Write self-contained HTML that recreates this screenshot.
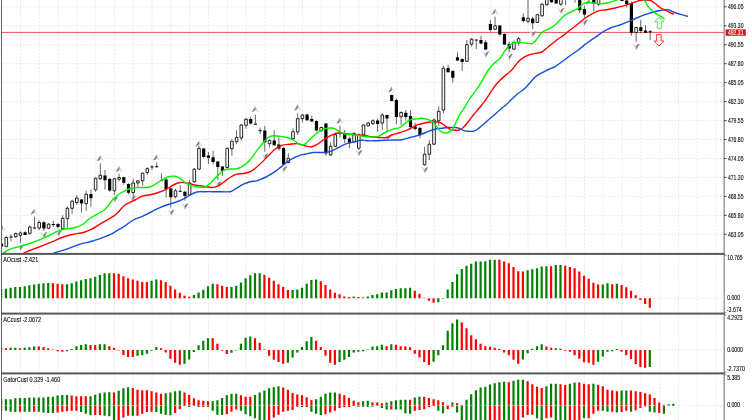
<!DOCTYPE html>
<html><head><meta charset="utf-8"><title>Chart</title>
<style>html,body{margin:0;padding:0;background:#fff;overflow:hidden}</style></head>
<body><svg width="752" height="420" viewBox="0 0 752 420" style="display:block">
<rect width="752" height="420" fill="#fff"/>
<path d="M20.5 0V420M39.3 0V420M58.1 0V420M76.9 0V420M95.7 0V420M114.5 0V420M133.3 0V420M152.1 0V420M170.9 0V420M189.7 0V420M208.5 0V420M227.3 0V420M246.1 0V420M264.9 0V420M283.7 0V420M302.5 0V420M321.3 0V420M340.1 0V420M358.9 0V420M377.7 0V420M396.5 0V420M415.3 0V420M434.1 0V420M452.9 0V420M471.7 0V420M490.5 0V420M509.3 0V420M528.1 0V420M546.9 0V420M565.7 0V420M584.5 0V420M603.3 0V420M622.1 0V420M640.9 0V420M659.7 0V420M678.5 0V420M697.3 0V420M716.1 0V420M2 6.8H724.0M2 25.8H724.0M2 44.7H724.0M2 63.7H724.0M2 82.6H724.0M2 101.6H724.0M2 120.6H724.0M2 139.5H724.0M2 158.5H724.0M2 177.4H724.0M2 196.4H724.0M2 215.4H724.0M2 234.3H724.0M2 298.3H724.0M2 350.0H724.0M2 405.5H724.0" stroke="#dadada" stroke-width="0.6" stroke-dasharray="1.76 1.76" fill="none"/>
<path d="M2 32.4H724.0" stroke="#e02828" stroke-width="0.8"/>
<defs><clipPath id="cm"><rect x="1.8" y="0" width="722" height="253"/></clipPath><clipPath id="c2"><rect x="1.8" y="254" width="722" height="120"/></clipPath>
<clipPath id="c3"><rect x="1.8" y="374" width="722" height="46"/></clipPath></defs>
<g clip-path="url(#cm)">
<path d="M34.4 208.7L37.6 214.5L36.6 214.5L34.5 212.3zM2.7 225.5L5.9 231.3L4.9 231.3L2.8 229.1zM100.5 155.3L103.7 161.1L102.7 161.1L100.6 158.9zM119.4 166.2L122.6 172.0L121.6 172.0L119.5 169.8zM156.9 154.5L160.1 160.3L159.1 160.3L157.0 158.1zM199.2 140.7L202.4 146.5L201.4 146.5L199.3 144.3zM255.5 106.2L258.7 112.0L257.7 112.0L255.6 109.8zM297.9 104.5L301.1 110.3L300.1 110.3L298.0 108.1zM340.2 117.8L343.4 123.6L342.4 123.6L340.3 121.4zM391.9 86.7L395.1 92.5L394.1 92.5L392.0 90.3zM495.4 8.7L498.6 14.5L497.6 14.5L495.5 12.3zM589.4 -1.3L592.6 4.5L591.6 4.5L589.5 2.3zM20.1 250.5L16.9 244.7L17.9 244.7L20.0 246.9zM43.6 238.0L40.4 232.2L41.4 232.2L43.5 234.4zM58.1 236.3L54.9 230.5L55.9 230.5L58.0 232.7zM114.4 202.2L111.2 196.4L112.2 196.4L114.3 198.6zM132.3 201.3L129.1 195.5L130.1 195.5L132.2 197.7zM170.7 215.5L167.5 209.7L168.5 209.7L170.6 211.9zM184.7 209.2L181.5 203.4L182.5 203.4L184.6 205.6zM217.8 187.2L214.6 181.4L215.6 181.4L217.7 183.6zM264.6 159.3L261.4 153.5L262.4 153.5L264.5 155.7zM283.5 172.0L280.3 166.2L281.3 166.2L283.4 168.4zM358.6 156.0L355.4 150.2L356.4 150.2L358.5 152.4zM387.6 140.5L384.4 134.7L385.4 134.7L387.5 136.9zM424.5 173.0L421.3 167.2L422.3 167.2L424.4 169.4zM485.5 57.2L482.3 51.4L483.3 51.4L485.4 53.6zM509.0 59.7L505.8 53.9L506.8 53.9L508.9 56.1zM532.5 37.2L529.3 31.4L530.3 31.4L532.4 33.6zM560.6 13.8L557.4 8.0L558.4 8.0L560.5 10.2zM584.1 25.5L580.9 19.7L581.9 19.7L584.0 21.9zM636.0 49.7L632.8 43.9L633.8 43.9L635.9 46.1z" fill="#cfdcf0"/>
<path d="M34.0 208.9L30.6 214.5M2.3 225.7L-1.1 231.3M100.1 155.5L96.7 161.1M119.0 166.4L115.6 172.0M156.5 154.7L153.1 160.3M198.8 140.9L195.4 146.5M255.1 106.4L251.7 112.0M297.5 104.7L294.1 110.3M339.8 118.0L336.4 123.6M391.5 86.9L388.1 92.5M495.0 8.9L491.6 14.5M589.0 -1.1L585.6 4.5M20.5 250.3L23.9 244.7M44.0 237.8L47.4 232.2M58.5 236.1L61.9 230.5M114.8 202.0L118.2 196.4M132.7 201.1L136.1 195.5M171.1 215.3L174.5 209.7M185.1 209.0L188.5 203.4M218.2 187.0L221.6 181.4M265.0 159.1L268.4 153.5M283.9 171.8L287.3 166.2M359.0 155.8L362.4 150.2M388.0 140.3L391.4 134.7M424.9 172.8L428.3 167.2M485.9 57.0L489.3 51.4M509.4 59.5L512.8 53.9M532.9 37.0L536.3 31.4M561.0 13.6L564.4 8.0M584.5 25.3L587.9 19.7M636.4 49.5L639.8 43.9" stroke="#ecc9a4" stroke-width="0.7" fill="none"/>
<path d="M34.4 208.7L30.8 214.5L32.6 214.1L34.5 212.3zM2.7 225.5L-0.9 231.3L0.9 230.9L2.8 229.1zM100.5 155.3L96.9 161.1L98.7 160.7L100.6 158.9zM119.4 166.2L115.8 172.0L117.6 171.6L119.5 169.8zM156.9 154.5L153.3 160.3L155.1 159.9L157.0 158.1zM199.2 140.7L195.6 146.5L197.4 146.1L199.3 144.3zM255.5 106.2L251.9 112.0L253.7 111.6L255.6 109.8zM297.9 104.5L294.3 110.3L296.1 109.9L298.0 108.1zM340.2 117.8L336.6 123.6L338.4 123.2L340.3 121.4zM391.9 86.7L388.3 92.5L390.1 92.1L392.0 90.3zM495.4 8.7L491.8 14.5L493.6 14.1L495.5 12.3zM589.4 -1.3L585.8 4.5L587.6 4.1L589.5 2.3zM20.1 250.5L23.7 244.7L21.9 245.1L20.0 246.9zM43.6 238.0L47.2 232.2L45.4 232.6L43.5 234.4zM58.1 236.3L61.7 230.5L59.9 230.9L58.0 232.7zM114.4 202.2L118.0 196.4L116.2 196.8L114.3 198.6zM132.3 201.3L135.9 195.5L134.1 195.9L132.2 197.7zM170.7 215.5L174.3 209.7L172.5 210.1L170.6 211.9zM184.7 209.2L188.3 203.4L186.5 203.8L184.6 205.6zM217.8 187.2L221.4 181.4L219.6 181.8L217.7 183.6zM264.6 159.3L268.2 153.5L266.4 153.9L264.5 155.7zM283.5 172.0L287.1 166.2L285.3 166.6L283.4 168.4zM358.6 156.0L362.2 150.2L360.4 150.6L358.5 152.4zM387.6 140.5L391.2 134.7L389.4 135.1L387.5 136.9zM424.5 173.0L428.1 167.2L426.3 167.6L424.4 169.4zM485.5 57.2L489.1 51.4L487.3 51.8L485.4 53.6zM509.0 59.7L512.6 53.9L510.8 54.3L508.9 56.1zM532.5 37.2L536.1 31.4L534.3 31.8L532.4 33.6zM560.6 13.8L564.2 8.0L562.4 8.4L560.5 10.2zM584.1 25.5L587.7 19.7L585.9 20.1L584.0 21.9zM636.0 49.7L639.6 43.9L637.8 44.3L635.9 46.1z" fill="#7d7d86"/>
<path d="M1.60 243.3V246.7M6.30 236.3V247.0M11.00 234.2V241.3M15.70 232.5V238.0M20.40 231.3V243.0M25.10 231.3V235.0M29.80 225.5V234.7M34.50 216.7V228.7M39.20 220.3V230.0M43.90 220.8V230.8M48.60 223.0V229.2M53.30 220.8V226.7M58.00 223.0V228.7M62.70 215.3V229.2M67.40 206.3V228.3M72.10 199.7V213.7M76.80 195.3V204.7M81.50 199.2V212.5M86.20 190.8V210.8M90.90 189.7V206.7M95.60 177.5V191.7M100.30 163.3V180.0M105.00 170.0V189.7M109.70 178.0V191.7M114.40 178.0V195.0M119.10 173.7V181.3M123.80 176.7V184.7M128.50 183.3V194.2M133.20 178.7V196.7M137.90 180.0V187.5M142.60 172.5V185.8M147.30 167.0V175.0M152.00 165.0V170.0M156.70 162.5V167.5M161.40 173.3V180.8M166.10 177.5V197.5M170.80 188.0V207.5M175.50 188.7V198.3M180.20 185.3V191.7M184.90 190.8V200.8M189.60 180.0V195.8M194.30 168.0V183.0M199.00 145.8V170.0M203.70 148.0V158.3M208.40 152.0V164.2M213.10 150.8V164.2M217.80 160.8V180.0M222.50 165.8V175.8M227.20 147.5V168.3M231.90 139.2V155.8M236.60 130.3V144.2M241.30 124.2V140.8M246.00 118.0V128.7M250.70 116.7V124.7M255.40 114.7V124.2M260.10 127.5V134.2M264.80 125.8V151.7M269.50 139.2V147.5M274.20 130.3V145.8M278.90 137.5V150.8M283.60 146.7V165.0M288.30 153.3V163.3M293.00 128.3V140.0M297.70 113.3V134.7M302.40 114.2V122.5M307.10 113.7V120.8M311.80 115.8V121.7M316.50 120.3V131.3M321.20 126.7V131.7M325.90 123.0V155.8M330.60 142.5V155.8M335.30 132.5V147.0M340.00 125.8V137.5M344.70 130.0V143.3M349.40 136.7V148.3M354.10 132.5V142.5M358.80 133.3V149.7M363.50 124.2V135.8M368.20 122.0V126.7M372.90 119.2V125.0M377.60 118.3V131.7M382.30 113.3V130.0M387.00 114.7V130.8M391.70 94.7V101.3M396.40 98.3V124.2M401.10 111.3V125.0M405.80 110.0V120.8M410.50 110.3V129.2M415.20 123.0V130.3M419.90 127.5V138.3M424.60 146.7V165.8M429.30 140.0V160.0M434.00 118.3V145.0M438.70 106.3V125.8M443.40 65.8V113.0M448.10 64.7V72.5M452.80 70.0V82.5M457.50 52.5V60.8M462.20 58.3V70.8M466.90 40.0V61.7M471.60 38.0V46.7M476.30 40.0V49.2M481.00 35.8V44.2M485.70 40.0V50.0M490.40 20.0V31.7M495.10 16.7V30.0M499.80 25.0V35.8M504.50 33.3V44.7M509.20 41.7V52.5M513.90 40.3V49.7M518.60 37.0V45.8M523.30 13.3V22.5M528.00 0.0V23.3M532.70 16.7V29.2M537.40 14.2V23.0M542.10 3.3V16.7M546.80 -5.0V5.8M551.50 -5.0V2.5M556.20 -5.0V3.7M560.90 -5.0V5.8M565.60 -5.0V5.0M575.00 -5.0V2.5M579.70 -5.0V13.3M584.40 5.8V17.5M593.80 -5.0V11.7M598.50 -5.0V5.8M622.00 -5.0V0.8M626.70 -5.0V7.5M631.40 1.7V35.8M636.10 26.7V41.7M640.80 20.0V33.3M645.50 25.3V32.5M650.20 30.0V40.0" stroke="#000" stroke-width="0.6" fill="none"/>
<path d="M5.00 237.5h2.6V246.7h-2.6zM14.40 233.7h2.6V236.7h-2.6zM19.10 233.0h2.6V235.3h-2.6zM28.50 227.0h2.6V233.3h-2.6zM37.90 222.5h2.6V228.0h-2.6zM47.30 224.2h2.6V228.3h-2.6zM61.40 218.3h2.6V228.7h-2.6zM66.10 208.3h2.6V218.7h-2.6zM70.80 201.2h2.6V208.3h-2.6zM75.50 198.0h2.6V202.5h-2.6zM84.90 194.2h2.6V203.7h-2.6zM94.30 178.3h2.6V189.7h-2.6zM99.00 175.3h2.6V178.7h-2.6zM113.10 178.8h2.6V190.8h-2.6zM117.80 177.5h2.6V179.2h-2.6zM131.90 183.0h2.6V192.5h-2.6zM136.60 180.8h2.6V183.0h-2.6zM141.30 173.3h2.6V180.8h-2.6zM146.00 168.7h2.6V172.5h-2.6zM174.20 190.8h2.6V196.7h-2.6zM188.30 183.0h2.6V195.0h-2.6zM193.00 169.2h2.6V181.7h-2.6zM197.70 148.3h2.6V169.2h-2.6zM225.90 148.3h2.6V167.5h-2.6zM230.60 141.3h2.6V148.7h-2.6zM235.30 137.5h2.6V141.7h-2.6zM240.00 125.0h2.6V138.0h-2.6zM244.70 119.2h2.6V125.3h-2.6zM268.20 140.5h2.6V143.7h-2.6zM287.00 158.3h2.6V162.5h-2.6zM291.70 131.7h2.6V138.7h-2.6zM296.40 118.7h2.6V132.0h-2.6zM301.10 115.0h2.6V118.7h-2.6zM319.90 127.5h2.6V130.8h-2.6zM329.30 146.3h2.6V155.0h-2.6zM334.00 134.7h2.6V146.3h-2.6zM352.80 133.3h2.6V141.7h-2.6zM357.50 135.0h2.6V148.3h-2.6zM362.20 125.0h2.6V134.7h-2.6zM366.90 123.0h2.6V125.8h-2.6zM371.60 120.8h2.6V123.7h-2.6zM381.00 115.0h2.6V123.0h-2.6zM399.80 112.5h2.6V116.7h-2.6zM423.30 154.2h2.6V164.7h-2.6zM428.00 144.2h2.6V154.2h-2.6zM432.70 120.0h2.6V144.2h-2.6zM437.40 111.3h2.6V120.8h-2.6zM442.10 68.3h2.6V110.0h-2.6zM465.60 44.7h2.6V61.3h-2.6zM470.30 39.2h2.6V44.2h-2.6zM493.80 25.8h2.6V29.2h-2.6zM512.60 42.5h2.6V49.2h-2.6zM517.30 38.7h2.6V43.0h-2.6zM526.70 18.3h2.6V21.3h-2.6zM536.10 14.7h2.6V22.5h-2.6zM540.80 4.2h2.6V15.8h-2.6zM545.50 -3.3h2.6V4.7h-2.6zM559.60 -5.0h2.6V4.2h-2.6zM597.20 -5.0h2.6V4.2h-2.6zM634.80 27.5h2.6V32.5h-2.6z" stroke="#000" stroke-width="0.85" fill="#fff"/>
<path d="M-0.00 243.5h3.2V246.5h-3.2zM23.50 232.3h3.2V234.9h-3.2zM42.30 222.3h3.2V228.5h-3.2zM56.40 224.0h3.2V226.9h-3.2zM79.90 199.5h3.2V203.5h-3.2zM89.30 194.0h3.2V198.2h-3.2zM103.40 175.6h3.2V180.2h-3.2zM108.10 179.0h3.2V190.5h-3.2zM122.20 177.3h3.2V182.7h-3.2zM126.90 184.0h3.2V192.7h-3.2zM164.50 179.5h3.2V188.9h-3.2zM169.20 188.5h3.2V197.2h-3.2zM183.30 191.8h3.2V196.0h-3.2zM202.10 148.5h3.2V156.9h-3.2zM206.80 155.6h3.2V157.7h-3.2zM211.50 157.3h3.2V161.9h-3.2zM216.20 161.5h3.2V166.9h-3.2zM220.90 166.5h3.2V171.0h-3.2zM249.10 119.0h3.2V123.5h-3.2zM263.20 130.6h3.2V142.2h-3.2zM272.60 140.6h3.2V145.2h-3.2zM277.30 144.5h3.2V148.5h-3.2zM282.00 148.1h3.2V164.4h-3.2zM305.50 114.5h3.2V120.2h-3.2zM310.20 119.0h3.2V121.5h-3.2zM314.90 121.1h3.2V130.5h-3.2zM324.30 123.5h3.2V153.5h-3.2zM343.10 133.1h3.2V138.9h-3.2zM347.80 138.5h3.2V142.7h-3.2zM376.00 120.6h3.2V123.9h-3.2zM385.40 115.1h3.2V118.5h-3.2zM390.10 95.1h3.2V101.0h-3.2zM394.80 100.1h3.2V116.9h-3.2zM404.20 112.8h3.2V116.9h-3.2zM408.90 116.1h3.2V126.9h-3.2zM413.60 126.5h3.2V128.9h-3.2zM418.30 127.8h3.2V135.2h-3.2zM446.50 68.1h3.2V72.2h-3.2zM451.20 71.1h3.2V77.7h-3.2zM455.90 57.3h3.2V60.5h-3.2zM460.60 59.0h3.2V61.9h-3.2zM479.40 40.1h3.2V43.5h-3.2zM484.10 42.3h3.2V49.4h-3.2zM488.80 24.0h3.2V29.9h-3.2zM498.20 25.6h3.2V34.4h-3.2zM502.90 34.0h3.2V44.4h-3.2zM507.60 44.0h3.2V48.5h-3.2zM521.70 17.3h3.2V21.0h-3.2zM531.10 18.5h3.2V23.2h-3.2zM549.90 -5.2h3.2V2.2h-3.2zM554.60 -5.2h3.2V3.5h-3.2zM578.10 -5.2h3.2V10.2h-3.2zM582.80 9.0h3.2V14.4h-3.2zM592.20 -5.2h3.2V3.5h-3.2zM620.40 -5.2h3.2V1.0h-3.2zM625.10 0.6h3.2V3.9h-3.2zM629.80 3.1h3.2V32.7h-3.2zM639.20 27.3h3.2V31.0h-3.2zM643.90 30.6h3.2V32.7h-3.2z" fill="#000"/>
<path d="M9.40 237.0h3.2M32.90 228.0h3.2M51.70 224.5h3.2M150.40 167.0h3.2M155.10 166.7h3.2M159.80 180.5h3.2M178.60 191.2h3.2M253.80 124.2h3.2M258.50 130.8h3.2M338.40 133.3h3.2M474.70 40.0h3.2M564.00 -5.0h3.2M573.40 -5.0h3.2M648.60 31.7h3.2" stroke="#000" stroke-width="1.1" fill="none"/>
<path d="M53.3 253.3C55.5 252.6 62.2 250.7 66.7 249.2C71.2 247.7 76.1 245.4 80.0 244.2C83.9 242.9 86.7 242.6 90.0 241.7C93.3 240.8 96.7 239.9 100.0 238.7C103.3 237.5 107.2 236.0 110.0 234.7C112.8 233.4 114.2 232.3 116.7 230.8C119.2 229.3 122.2 227.6 125.0 225.8C127.8 224.0 130.5 221.5 133.3 220.0C136.1 218.5 138.9 217.9 141.7 216.7C144.5 215.4 147.2 213.9 150.0 212.5C152.8 211.1 155.5 209.6 158.3 208.3C161.1 207.1 163.9 206.0 166.7 205.0C169.5 204.0 172.2 203.5 175.0 202.5C177.8 201.5 180.8 200.4 183.3 199.2C185.8 197.9 187.8 196.2 190.0 195.0C192.2 193.8 194.2 192.6 196.7 192.0C199.2 191.4 201.7 191.8 205.0 191.7C208.3 191.6 212.5 191.7 216.7 191.7C220.9 191.7 226.9 192.1 230.0 191.7C233.1 191.3 232.8 190.4 235.0 189.2C237.2 187.9 240.8 185.4 243.3 184.2C245.8 182.9 247.8 182.3 250.0 181.7C252.2 181.1 254.2 181.5 256.7 180.8C259.2 180.1 261.9 179.0 265.0 177.5C268.1 176.0 271.9 173.8 275.0 171.7C278.1 169.6 280.8 166.9 283.3 165.0C285.8 163.1 287.5 161.5 290.0 160.0C292.5 158.5 295.8 156.8 298.3 155.8C300.8 154.8 302.5 154.8 305.0 154.2C307.5 153.6 310.5 152.8 313.3 152.5C316.1 152.2 318.9 152.6 321.7 152.5C324.5 152.4 327.2 152.5 330.0 151.7C332.8 150.9 335.5 148.8 338.3 147.5C341.1 146.2 343.9 144.7 346.7 143.7C349.5 142.7 352.5 142.3 355.0 141.7C357.5 141.1 359.8 140.2 361.7 140.0C363.6 139.8 364.5 140.7 366.7 140.8C368.9 140.9 371.9 140.9 375.0 140.8C378.1 140.7 381.9 140.4 385.0 140.3C388.1 140.2 390.5 140.1 393.3 140.0C396.1 139.9 398.9 140.1 401.7 139.7C404.5 139.3 407.8 138.1 410.0 137.5C412.2 136.9 413.1 136.9 415.0 136.3C416.9 135.8 419.5 135.0 421.7 134.2C423.9 133.4 426.1 132.1 428.3 131.3C430.5 130.5 432.8 129.7 435.0 129.2C437.2 128.7 439.5 128.6 441.7 128.3C443.9 128.0 446.1 127.6 448.3 127.5C450.5 127.4 453.2 127.4 455.0 127.5C456.8 127.6 457.8 127.8 459.2 128.3C460.6 128.8 461.8 129.8 463.3 130.3C464.8 130.8 466.6 131.2 468.3 131.3C470.0 131.5 471.9 131.4 473.3 131.2C474.7 131.0 475.3 130.9 476.7 130.0C478.1 129.1 479.8 127.5 481.7 125.8C483.6 124.1 486.1 121.9 488.3 120.0C490.5 118.1 492.8 116.2 495.0 114.2C497.2 112.2 499.9 109.8 501.7 108.3C503.5 106.8 504.1 106.5 505.8 105.0C507.5 103.5 509.6 101.2 511.7 99.2C513.8 97.2 516.1 95.1 518.3 93.3C520.5 91.5 522.8 90.4 525.0 88.3C527.2 86.2 529.8 82.9 531.7 80.8C533.7 78.7 534.1 77.6 536.7 75.8C539.3 74.0 544.5 71.5 547.5 70.0C550.5 68.5 552.4 68.2 555.0 66.7C557.6 65.2 560.8 62.6 563.3 60.8C565.8 59.0 567.5 57.6 570.0 55.8C572.5 54.0 575.5 52.1 578.3 50.0C581.1 47.9 583.9 45.4 586.7 43.3C589.5 41.2 592.2 39.4 595.0 37.5C597.8 35.6 600.5 33.4 603.3 31.7C606.1 30.0 608.9 28.6 611.7 27.5C614.5 26.4 617.2 26.0 620.0 25.0C622.8 24.0 625.5 22.9 628.3 21.7C631.1 20.5 633.9 19.2 636.7 18.0C639.5 16.8 642.2 15.7 645.0 14.7C647.8 13.7 650.5 12.7 653.3 12.0C656.1 11.3 659.2 10.7 661.7 10.3C664.2 9.9 666.4 9.4 668.3 9.7C670.2 10.0 671.3 11.2 673.3 12.0C675.2 12.8 677.6 13.5 680.0 14.2C682.4 14.9 686.2 15.9 687.5 16.2" stroke="#1450dc" stroke-width="1.4" fill="none" stroke-linejoin="round" stroke-linecap="round"/>
<path d="M23.3 253.3C25.0 252.6 30.0 250.5 33.3 249.2C36.6 247.9 40.0 246.6 43.3 245.3C46.6 244.0 50.0 242.7 53.3 241.3C56.6 239.9 60.0 238.2 63.3 237.0C66.6 235.8 70.0 234.9 73.3 234.2C76.6 233.4 80.2 233.3 83.3 232.5C86.4 231.7 88.9 230.6 91.7 229.2C94.5 227.8 97.0 226.0 100.0 224.2C103.0 222.4 107.2 220.1 110.0 218.3C112.8 216.6 114.2 215.9 116.7 213.7C119.2 211.5 122.0 207.3 125.0 205.0C128.1 202.7 132.2 201.4 135.0 200.0C137.8 198.6 139.2 197.2 141.7 196.3C144.2 195.4 147.2 195.3 150.0 194.7C152.8 194.1 155.5 193.4 158.3 192.5C161.1 191.6 164.2 190.4 166.7 189.2C169.2 187.9 171.1 186.1 173.3 185.0C175.5 183.9 177.8 182.8 180.0 182.5C182.2 182.2 184.2 182.6 186.7 183.0C189.2 183.4 192.2 184.4 195.0 185.0C197.8 185.6 200.5 185.9 203.3 186.3C206.1 186.7 209.2 187.6 211.7 187.5C214.2 187.4 216.4 186.6 218.3 185.8C220.2 185.0 221.4 183.9 223.3 182.5C225.2 181.1 227.8 178.9 230.0 177.5C232.2 176.1 234.2 174.9 236.7 174.2C239.2 173.5 242.5 173.9 245.0 173.3C247.5 172.7 249.5 172.1 251.7 170.8C253.9 169.6 255.5 168.3 258.3 165.8C261.1 163.3 265.5 158.6 268.3 155.8C271.1 153.0 272.8 150.9 275.0 149.2C277.2 147.4 279.2 146.1 281.7 145.3C284.2 144.5 287.2 144.5 290.0 144.2C292.8 143.9 295.8 143.4 298.3 143.7C300.8 144.0 302.8 145.3 305.0 145.8C307.2 146.3 309.8 146.9 311.7 146.7C313.6 146.5 314.8 145.8 316.7 144.7C318.6 143.6 321.1 141.5 323.3 140.0C325.5 138.5 327.5 137.0 330.0 135.8C332.5 134.6 335.5 133.3 338.3 133.0C341.1 132.7 343.9 133.4 346.7 133.7C349.5 134.0 352.2 134.4 355.0 134.7C357.8 135.0 360.5 135.0 363.3 135.3C366.1 135.6 368.9 136.3 371.7 136.7C374.5 137.1 377.5 137.4 380.0 137.5C382.5 137.6 384.8 137.9 386.7 137.5C388.6 137.1 389.5 135.8 391.7 135.0C393.9 134.2 397.2 133.4 400.0 132.5C402.8 131.6 405.8 130.8 408.3 129.7C410.8 128.6 413.1 126.7 415.0 125.8C416.9 124.9 418.1 124.8 420.0 124.2C421.9 123.7 424.5 122.9 426.7 122.5C428.9 122.1 431.1 121.7 433.3 121.7C435.5 121.7 438.1 121.8 440.0 122.5C441.9 123.2 443.3 124.7 445.0 125.8C446.7 126.9 448.3 128.4 450.0 129.2C451.7 129.9 453.5 130.2 455.0 130.3C456.5 130.4 457.8 130.5 459.2 130.0C460.6 129.5 461.8 128.9 463.3 127.5C464.8 126.1 466.6 123.8 468.3 121.7C470.0 119.6 471.6 117.1 473.3 115.0C475.0 112.9 476.9 110.9 478.3 109.2C479.7 107.5 480.3 106.8 481.7 105.0C483.1 103.2 484.8 101.1 486.7 98.3C488.6 95.5 491.1 91.3 493.3 88.3C495.5 85.3 496.9 83.3 500.0 80.3C503.1 77.2 508.6 73.1 511.7 70.0C514.8 66.9 516.1 63.9 518.3 61.7C520.5 59.5 522.8 58.0 525.0 56.7C527.2 55.5 528.9 55.0 531.7 54.2C534.5 53.4 538.9 53.2 541.7 52.0C544.5 50.8 545.8 48.7 548.3 46.7C550.8 44.7 553.9 42.1 556.7 40.0C559.5 37.9 562.8 35.9 565.0 34.2C567.2 32.5 568.0 31.5 570.0 30.0C572.0 28.5 574.2 26.9 576.7 25.0C579.2 23.1 582.5 20.1 585.0 18.3C587.5 16.5 589.5 15.4 591.7 14.2C593.9 12.9 595.8 11.6 598.3 10.8C600.8 10.1 603.9 10.2 606.7 9.7C609.5 9.2 612.2 8.7 615.0 8.0C617.8 7.3 620.5 6.6 623.3 5.8C626.1 5.0 629.2 4.1 631.7 3.3C634.2 2.5 636.4 1.4 638.3 0.8C640.2 0.3 641.3 0.1 643.3 0.0C645.2 -0.1 648.0 -0.2 650.0 0.3C652.0 0.8 653.3 2.1 655.0 3.3C656.7 4.5 658.0 6.2 660.0 7.5C662.0 8.8 664.5 9.7 666.7 10.8C668.9 11.9 672.2 13.6 673.3 14.2" stroke="#ff0000" stroke-width="1.4" fill="none" stroke-linejoin="round" stroke-linecap="round"/>
<path d="M3.0 253.3C4.2 252.6 7.2 250.4 10.0 249.2C12.8 248.0 16.7 247.3 20.0 246.3C23.3 245.3 26.7 244.4 30.0 243.3C33.3 242.2 36.7 241.1 40.0 239.7C43.3 238.3 47.0 236.5 50.0 235.0C53.0 233.5 55.5 231.9 58.3 230.8C61.1 229.8 64.2 229.2 66.7 228.7C69.2 228.2 70.8 228.6 73.3 228.0C75.8 227.4 78.9 226.6 81.7 225.0C84.5 223.4 87.0 220.4 90.0 218.3C93.0 216.2 97.5 214.0 100.0 212.5C102.5 211.0 103.3 210.7 105.0 209.2C106.7 207.7 108.8 204.8 110.0 203.3C111.2 201.8 111.4 201.2 112.5 200.0C113.6 198.8 114.9 197.2 116.7 195.8C118.5 194.4 120.8 192.9 123.3 191.7C125.8 190.4 128.6 189.0 131.7 188.3C134.8 187.6 138.6 187.7 141.7 187.5C144.8 187.3 147.5 187.7 150.0 187.0C152.5 186.3 154.5 184.6 156.7 183.3C158.9 182.0 161.4 180.3 163.3 179.2C165.2 178.1 166.4 177.2 168.3 176.7C170.2 176.2 173.1 176.0 175.0 176.3C176.9 176.6 178.3 177.3 180.0 178.3C181.7 179.3 183.1 181.3 185.0 182.5C186.9 183.7 189.5 184.6 191.7 185.3C193.9 186.1 196.1 186.7 198.3 187.0C200.5 187.3 203.1 187.6 205.0 187.0C206.9 186.4 208.1 185.0 210.0 183.3C211.9 181.6 214.8 178.6 216.7 176.7C218.6 174.8 220.0 172.9 221.7 171.7C223.4 170.4 224.2 169.7 226.7 169.2C229.2 168.7 233.9 169.3 236.7 168.7C239.5 168.1 241.1 167.2 243.3 165.8C245.5 164.4 247.8 162.5 250.0 160.0C252.2 157.5 254.5 153.7 256.7 150.8C258.9 147.9 261.4 144.7 263.3 142.5C265.2 140.3 266.6 138.6 268.3 137.5C270.0 136.4 271.4 136.0 273.3 135.8C275.2 135.6 277.8 136.0 280.0 136.3C282.2 136.6 284.5 136.9 286.7 137.5C288.9 138.1 291.1 138.8 293.3 140.0C295.5 141.2 298.1 144.0 300.0 144.7C301.9 145.4 303.3 145.1 305.0 144.2C306.7 143.3 308.1 141.0 310.0 139.2C311.9 137.4 314.5 135.0 316.7 133.3C318.9 131.6 321.1 130.1 323.3 129.2C325.5 128.3 328.1 128.1 330.0 128.0C331.9 127.9 333.2 127.9 335.0 128.7C336.8 129.4 338.9 131.6 340.8 132.5C342.8 133.4 344.3 133.8 346.7 134.2C349.1 134.6 352.2 134.7 355.0 135.0C357.8 135.3 360.5 136.0 363.3 136.3C366.1 136.6 369.2 137.0 371.7 137.0C374.2 137.0 376.1 137.1 378.3 136.3C380.5 135.6 382.5 133.7 385.0 132.5C387.5 131.3 390.8 130.0 393.3 129.2C395.8 128.4 398.1 128.5 400.0 127.5C401.9 126.5 403.1 124.7 405.0 123.3C406.9 121.9 410.0 119.9 411.7 119.2C413.4 118.5 413.3 119.4 415.0 119.2C416.7 119.0 419.5 118.2 421.7 118.3C423.9 118.4 426.4 119.0 428.3 119.7C430.2 120.4 431.9 121.3 433.3 122.5C434.7 123.7 435.6 125.3 436.7 126.7C437.8 128.1 438.8 129.8 440.0 130.8C441.2 131.9 442.8 132.7 444.2 133.0C445.6 133.3 446.9 133.1 448.3 132.5C449.7 131.9 451.2 130.9 452.5 129.2C453.8 127.5 454.6 125.0 455.8 122.5C457.1 120.0 458.5 116.8 460.0 114.2C461.5 111.6 463.3 109.4 465.0 106.7C466.7 104.0 468.3 100.8 470.0 98.3C471.7 95.8 473.1 94.5 475.0 91.7C476.9 88.9 479.5 85.3 481.7 81.7C483.9 78.1 486.1 73.2 488.3 70.0C490.5 66.8 493.1 64.5 495.0 62.5C496.9 60.5 498.3 60.2 500.0 58.3C501.7 56.3 503.3 53.0 505.0 50.8C506.7 48.6 508.3 46.4 510.0 45.0C511.7 43.6 513.0 42.9 515.0 42.5C517.0 42.1 519.8 42.4 521.7 42.5C523.7 42.6 524.9 43.2 526.7 43.3C528.5 43.4 530.8 44.0 532.5 43.3C534.2 42.6 535.2 41.0 536.7 39.2C538.2 37.4 539.8 34.2 541.7 32.5C543.6 30.8 546.1 30.4 548.3 29.2C550.5 27.9 553.0 26.5 555.0 25.0C557.0 23.5 558.3 21.7 560.0 20.0C561.7 18.3 563.3 16.2 565.0 15.0C566.7 13.8 568.0 13.5 570.0 12.5C572.0 11.5 574.8 10.4 576.7 9.2C578.7 7.9 580.0 6.1 581.7 5.0C583.4 3.9 584.8 2.8 586.7 2.5C588.6 2.2 591.1 2.8 593.3 3.0C595.5 3.2 597.8 3.7 600.0 3.7C602.2 3.7 604.5 3.4 606.7 3.0C608.9 2.6 611.6 1.8 613.3 1.3C615.0 0.8 615.6 0.4 616.7 0.0C617.8 -0.4 618.3 -0.8 620.0 -1.3C621.7 -1.8 624.5 -2.7 626.7 -3.0C628.9 -3.3 631.2 -3.4 633.3 -3.3C635.4 -3.2 637.4 -3.0 639.2 -2.5C641.0 -2.0 642.7 -1.5 644.2 0.0C645.7 1.5 646.8 4.8 648.3 6.7C649.8 8.7 651.3 10.2 653.3 11.7C655.2 13.2 658.2 14.6 660.0 15.8C661.8 17.0 663.5 18.2 664.2 18.7" stroke="#00f400" stroke-width="1.4" fill="none" stroke-linejoin="round" stroke-linecap="round"/>
<path d="M659.2 17.3L664 21.6H661.6V28.4H657.4V21.6H654.6Z" fill="#f4fff0" stroke="#48d848" stroke-width="0.8"/>
<path d="M659 46L664 41H661.2V34.6H656.6V41H654Z" fill="#fff4f0" stroke="#ff2828" stroke-width="0.9"/>
</g>
<g clip-path="url(#c2)">
<path d="M0.10 289.0h2.2V298.3h-2.2zM4.80 288.7h2.2V298.3h-2.2zM9.50 287.8h2.2V298.3h-2.2zM14.20 287.0h2.2V298.3h-2.2zM18.90 287.0h2.2V298.3h-2.2zM23.60 286.2h2.2V298.3h-2.2zM28.30 285.3h2.2V298.3h-2.2zM33.00 284.5h2.2V298.3h-2.2zM37.70 283.7h2.2V298.3h-2.2zM42.40 283.2h2.2V298.3h-2.2zM47.10 283.0h2.2V298.3h-2.2zM65.90 284.2h2.2V298.3h-2.2zM70.60 283.2h2.2V298.3h-2.2zM75.30 281.5h2.2V298.3h-2.2zM80.00 280.3h2.2V298.3h-2.2zM84.70 279.0h2.2V298.3h-2.2zM89.40 278.2h2.2V298.3h-2.2zM94.10 276.7h2.2V298.3h-2.2zM98.80 275.0h2.2V298.3h-2.2zM103.50 273.2h2.2V298.3h-2.2zM108.20 273.2h2.2V298.3h-2.2zM150.50 280.8h2.2V298.3h-2.2zM155.20 279.5h2.2V298.3h-2.2zM192.80 295.0h2.2V298.3h-2.2zM197.50 292.5h2.2V298.3h-2.2zM202.20 289.7h2.2V298.3h-2.2zM206.90 286.2h2.2V298.3h-2.2zM211.60 283.7h2.2V298.3h-2.2zM230.40 287.0h2.2V298.3h-2.2zM235.10 285.8h2.2V298.3h-2.2zM239.80 282.5h2.2V298.3h-2.2zM244.50 278.3h2.2V298.3h-2.2zM249.20 275.3h2.2V298.3h-2.2zM253.90 273.2h2.2V298.3h-2.2zM258.60 273.2h2.2V298.3h-2.2zM291.50 290.0h2.2V298.3h-2.2zM296.20 289.5h2.2V298.3h-2.2zM300.90 287.8h2.2V298.3h-2.2zM305.60 283.7h2.2V298.3h-2.2zM310.30 280.0h2.2V298.3h-2.2zM315.00 279.5h2.2V298.3h-2.2zM352.60 296.5h2.2V298.3h-2.2zM366.70 296.5h2.2V298.3h-2.2zM371.40 295.0h2.2V298.3h-2.2zM376.10 294.2h2.2V298.3h-2.2zM380.80 292.5h2.2V298.3h-2.2zM385.50 292.5h2.2V298.3h-2.2zM390.20 290.3h2.2V298.3h-2.2zM394.90 289.0h2.2V298.3h-2.2zM399.60 288.2h2.2V298.3h-2.2zM404.30 288.2h2.2V298.3h-2.2zM409.00 287.8h2.2V298.3h-2.2zM437.20 298.3h2.2V302.3h-2.2zM441.90 298.0h2.2V298.6h-2.2zM446.60 289.5h2.2V298.3h-2.2zM451.30 282.0h2.2V298.3h-2.2zM456.00 274.2h2.2V298.3h-2.2zM460.70 269.0h2.2V298.3h-2.2zM465.40 265.7h2.2V298.3h-2.2zM470.10 263.7h2.2V298.3h-2.2zM474.80 261.5h2.2V298.3h-2.2zM479.50 261.5h2.2V298.3h-2.2zM484.20 261.2h2.2V298.3h-2.2zM488.90 259.8h2.2V298.3h-2.2zM493.60 259.8h2.2V298.3h-2.2zM526.50 270.3h2.2V298.3h-2.2zM531.20 269.2h2.2V298.3h-2.2zM535.90 268.2h2.2V298.3h-2.2zM540.60 266.5h2.2V298.3h-2.2zM545.30 266.2h2.2V298.3h-2.2zM554.70 265.0h2.2V298.3h-2.2zM559.40 265.0h2.2V298.3h-2.2zM601.70 284.5h2.2V298.3h-2.2zM606.40 283.2h2.2V298.3h-2.2zM615.80 283.7h2.2V298.3h-2.2zM9.50 347.8h2.2V350.0h-2.2zM14.20 347.8h2.2V350.0h-2.2zM23.60 347.8h2.2V350.0h-2.2zM28.30 347.3h2.2V350.0h-2.2zM33.00 346.5h2.2V350.0h-2.2zM65.90 350.0h2.2V351.2h-2.2zM70.60 349.0h2.2V350.0h-2.2zM75.30 346.2h2.2V350.0h-2.2zM80.00 345.0h2.2V350.0h-2.2zM84.70 344.2h2.2V350.0h-2.2zM98.80 344.2h2.2V350.0h-2.2zM103.50 344.2h2.2V350.0h-2.2zM136.40 350.0h2.2V355.8h-2.2zM141.10 350.0h2.2V355.3h-2.2zM145.80 350.0h2.2V353.7h-2.2zM150.50 350.0h2.2V350.8h-2.2zM155.20 347.0h2.2V350.0h-2.2zM183.40 350.0h2.2V363.7h-2.2zM188.10 350.0h2.2V359.5h-2.2zM192.80 350.0h2.2V352.0h-2.2zM197.50 345.3h2.2V350.0h-2.2zM202.20 340.8h2.2V350.0h-2.2zM206.90 338.2h2.2V350.0h-2.2zM230.40 350.0h2.2V352.8h-2.2zM235.10 350.0h2.2V350.5h-2.2zM239.80 343.7h2.2V350.0h-2.2zM244.50 337.8h2.2V350.0h-2.2zM249.20 336.5h2.2V350.0h-2.2zM286.80 350.0h2.2V362.8h-2.2zM291.50 350.0h2.2V357.5h-2.2zM296.20 350.0h2.2V352.5h-2.2zM300.90 347.0h2.2V350.0h-2.2zM305.60 341.2h2.2V350.0h-2.2zM310.30 337.0h2.2V350.0h-2.2zM338.50 350.0h2.2V362.0h-2.2zM343.20 350.0h2.2V359.8h-2.2zM347.90 350.0h2.2V357.0h-2.2zM352.60 350.0h2.2V352.5h-2.2zM357.30 350.0h2.2V351.7h-2.2zM362.00 350.0h2.2V351.2h-2.2zM366.70 349.5h2.2V350.0h-2.2zM371.40 346.5h2.2V350.0h-2.2zM376.10 346.2h2.2V350.0h-2.2zM380.80 344.8h2.2V350.0h-2.2zM390.20 344.2h2.2V350.0h-2.2zM432.50 350.0h2.2V361.7h-2.2zM437.20 350.0h2.2V355.3h-2.2zM441.90 345.3h2.2V350.0h-2.2zM446.60 330.8h2.2V350.0h-2.2zM451.30 323.2h2.2V350.0h-2.2zM456.00 319.5h2.2V350.0h-2.2zM521.80 350.0h2.2V359.5h-2.2zM526.50 350.0h2.2V353.3h-2.2zM531.20 348.7h2.2V350.0h-2.2zM535.90 346.2h2.2V350.0h-2.2zM540.60 344.2h2.2V350.0h-2.2zM554.70 348.2h2.2V350.0h-2.2zM597.00 350.0h2.2V361.7h-2.2zM601.70 350.0h2.2V356.5h-2.2zM606.40 350.0h2.2V351.7h-2.2zM611.10 350.0h2.2V351.2h-2.2zM615.80 349.0h2.2V350.0h-2.2zM648.70 350.0h2.2V367.0h-2.2z" fill="#008000"/>
<path d="M51.80 283.2h2.2V298.3h-2.2zM56.50 283.7h2.2V298.3h-2.2zM61.20 284.2h2.2V298.3h-2.2zM112.90 273.2h2.2V298.3h-2.2zM117.60 273.7h2.2V298.3h-2.2zM122.30 276.2h2.2V298.3h-2.2zM127.00 278.3h2.2V298.3h-2.2zM131.70 279.5h2.2V298.3h-2.2zM136.40 280.7h2.2V298.3h-2.2zM141.10 282.0h2.2V298.3h-2.2zM145.80 282.0h2.2V298.3h-2.2zM159.90 280.3h2.2V298.3h-2.2zM164.60 282.0h2.2V298.3h-2.2zM169.30 285.8h2.2V298.3h-2.2zM174.00 289.5h2.2V298.3h-2.2zM178.70 292.8h2.2V298.3h-2.2zM183.40 295.8h2.2V298.3h-2.2zM188.10 296.7h2.2V298.3h-2.2zM216.30 284.2h2.2V298.3h-2.2zM221.00 285.8h2.2V298.3h-2.2zM225.70 287.0h2.2V298.3h-2.2zM263.30 275.0h2.2V298.3h-2.2zM268.00 277.8h2.2V298.3h-2.2zM272.70 280.8h2.2V298.3h-2.2zM277.40 284.2h2.2V298.3h-2.2zM282.10 287.0h2.2V298.3h-2.2zM286.80 290.0h2.2V298.3h-2.2zM319.70 281.2h2.2V298.3h-2.2zM324.40 285.0h2.2V298.3h-2.2zM329.10 289.5h2.2V298.3h-2.2zM333.80 292.8h2.2V298.3h-2.2zM338.50 294.2h2.2V298.3h-2.2zM343.20 296.5h2.2V298.3h-2.2zM347.90 297.0h2.2V298.3h-2.2zM357.30 297.0h2.2V298.3h-2.2zM362.00 297.5h2.2V298.3h-2.2zM413.70 290.7h2.2V298.3h-2.2zM418.40 293.7h2.2V298.3h-2.2zM423.10 297.7h2.2V298.3h-2.2zM427.80 298.3h2.2V300.8h-2.2zM432.50 298.3h2.2V302.8h-2.2zM498.30 259.8h2.2V298.3h-2.2zM503.00 261.5h2.2V298.3h-2.2zM507.70 263.3h2.2V298.3h-2.2zM512.40 267.0h2.2V298.3h-2.2zM517.10 271.2h2.2V298.3h-2.2zM521.80 271.5h2.2V298.3h-2.2zM550.00 266.2h2.2V298.3h-2.2zM564.10 265.7h2.2V298.3h-2.2zM568.80 267.0h2.2V298.3h-2.2zM573.50 268.3h2.2V298.3h-2.2zM578.20 271.5h2.2V298.3h-2.2zM582.90 275.7h2.2V298.3h-2.2zM587.60 278.7h2.2V298.3h-2.2zM592.30 282.8h2.2V298.3h-2.2zM597.00 284.5h2.2V298.3h-2.2zM611.10 284.2h2.2V298.3h-2.2zM620.50 285.0h2.2V298.3h-2.2zM625.20 287.3h2.2V298.3h-2.2zM629.90 290.8h2.2V298.3h-2.2zM634.60 295.3h2.2V298.3h-2.2zM639.30 298.3h2.2V300.0h-2.2zM644.00 298.3h2.2V304.0h-2.2zM648.70 298.3h2.2V307.8h-2.2zM0.10 348.3h2.2V350.0h-2.2zM4.80 348.3h2.2V350.0h-2.2zM18.90 348.3h2.2V350.0h-2.2zM37.70 346.5h2.2V350.0h-2.2zM42.40 347.0h2.2V350.0h-2.2zM47.10 348.3h2.2V350.0h-2.2zM51.80 349.5h2.2V350.0h-2.2zM56.50 350.0h2.2V351.2h-2.2zM61.20 350.0h2.2V351.7h-2.2zM89.40 345.0h2.2V350.0h-2.2zM94.10 345.0h2.2V350.0h-2.2zM108.20 346.2h2.2V350.0h-2.2zM112.90 347.8h2.2V350.0h-2.2zM117.60 350.0h2.2V350.6h-2.2zM122.30 350.0h2.2V355.0h-2.2zM127.00 350.0h2.2V357.0h-2.2zM131.70 350.0h2.2V357.0h-2.2zM159.90 348.3h2.2V350.0h-2.2zM164.60 350.0h2.2V352.5h-2.2zM169.30 350.0h2.2V358.7h-2.2zM174.00 350.0h2.2V362.8h-2.2zM178.70 350.0h2.2V364.8h-2.2zM211.60 338.2h2.2V350.0h-2.2zM216.30 343.7h2.2V350.0h-2.2zM221.00 350.0h2.2V350.8h-2.2zM225.70 350.0h2.2V354.0h-2.2zM253.90 338.2h2.2V350.0h-2.2zM258.60 342.8h2.2V350.0h-2.2zM263.30 349.5h2.2V350.0h-2.2zM268.00 350.0h2.2V355.8h-2.2zM272.70 350.0h2.2V359.8h-2.2zM277.40 350.0h2.2V362.0h-2.2zM282.10 350.0h2.2V363.7h-2.2zM315.00 340.7h2.2V350.0h-2.2zM319.70 347.0h2.2V350.0h-2.2zM324.40 350.0h2.2V355.8h-2.2zM329.10 350.0h2.2V362.8h-2.2zM333.80 350.0h2.2V364.8h-2.2zM385.50 346.2h2.2V350.0h-2.2zM394.90 344.8h2.2V350.0h-2.2zM399.60 346.2h2.2V350.0h-2.2zM404.30 346.5h2.2V350.0h-2.2zM409.00 347.3h2.2V350.0h-2.2zM413.70 350.0h2.2V353.7h-2.2zM418.40 350.0h2.2V357.5h-2.2zM423.10 350.0h2.2V362.0h-2.2zM427.80 350.0h2.2V365.0h-2.2zM460.70 322.5h2.2V350.0h-2.2zM465.40 328.3h2.2V350.0h-2.2zM470.10 335.3h2.2V350.0h-2.2zM474.80 339.2h2.2V350.0h-2.2zM479.50 343.7h2.2V350.0h-2.2zM484.20 346.2h2.2V350.0h-2.2zM488.90 346.7h2.2V350.0h-2.2zM493.60 347.8h2.2V350.0h-2.2zM498.30 349.0h2.2V350.0h-2.2zM503.00 350.0h2.2V352.5h-2.2zM507.70 350.0h2.2V355.3h-2.2zM512.40 350.0h2.2V359.8h-2.2zM517.10 350.0h2.2V363.7h-2.2zM545.30 346.5h2.2V350.0h-2.2zM550.00 347.8h2.2V350.0h-2.2zM559.40 348.7h2.2V350.0h-2.2zM564.10 350.0h2.2V350.7h-2.2zM568.80 350.0h2.2V351.7h-2.2zM573.50 350.0h2.2V355.3h-2.2zM578.20 350.0h2.2V358.7h-2.2zM582.90 350.0h2.2V362.3h-2.2zM587.60 350.0h2.2V362.8h-2.2zM592.30 350.0h2.2V364.8h-2.2zM620.50 350.0h2.2V351.7h-2.2zM625.20 350.0h2.2V355.3h-2.2zM629.90 350.0h2.2V359.0h-2.2zM634.60 350.0h2.2V364.0h-2.2zM639.30 350.0h2.2V367.0h-2.2zM644.00 350.0h2.2V367.8h-2.2z" fill="#ff0000"/>
</g>
<g clip-path="url(#c3)">
<path d="M0.10 399.7h2.2V405.5h-2.2zM4.80 399.2h2.2V405.5h-2.2zM4.80 405.5h2.2V410.8h-2.2zM9.50 399.2h2.2V405.5h-2.2zM9.50 405.5h2.2V411.7h-2.2zM14.20 398.3h2.2V405.5h-2.2zM14.20 405.5h2.2V412.0h-2.2zM18.90 398.0h2.2V405.5h-2.2zM23.60 398.0h2.2V405.5h-2.2zM23.60 405.5h2.2V411.7h-2.2zM28.30 397.5h2.2V405.5h-2.2zM28.30 405.5h2.2V411.7h-2.2zM33.00 397.5h2.2V405.5h-2.2zM37.70 397.5h2.2V405.5h-2.2zM37.70 405.5h2.2V411.7h-2.2zM42.40 397.5h2.2V405.5h-2.2zM42.40 405.5h2.2V412.5h-2.2zM47.10 396.7h2.2V405.5h-2.2zM47.10 405.5h2.2V413.0h-2.2zM51.80 396.7h2.2V405.5h-2.2zM51.80 405.5h2.2V413.0h-2.2zM56.50 395.5h2.2V405.5h-2.2zM61.20 395.0h2.2V405.5h-2.2zM65.90 395.0h2.2V405.5h-2.2zM80.00 405.5h2.2V412.0h-2.2zM84.70 405.5h2.2V413.7h-2.2zM89.40 396.3h2.2V405.5h-2.2zM89.40 405.5h2.2V415.3h-2.2zM94.10 394.7h2.2V405.5h-2.2zM98.80 393.3h2.2V405.5h-2.2zM103.50 392.5h2.2V405.5h-2.2zM103.50 405.5h2.2V415.8h-2.2zM108.20 392.2h2.2V405.5h-2.2zM108.20 405.5h2.2V416.3h-2.2zM112.90 405.5h2.2V420.0h-2.2zM117.60 390.8h2.2V405.5h-2.2zM122.30 388.3h2.2V405.5h-2.2zM127.00 387.2h2.2V405.5h-2.2zM131.70 405.5h2.2V415.8h-2.2zM155.20 405.5h2.2V412.0h-2.2zM159.90 405.5h2.2V413.7h-2.2zM164.60 393.3h2.2V405.5h-2.2zM164.60 405.5h2.2V414.7h-2.2zM169.30 392.5h2.2V405.5h-2.2zM169.30 405.5h2.2V415.3h-2.2zM174.00 391.3h2.2V405.5h-2.2zM178.70 390.8h2.2V405.5h-2.2zM188.10 405.5h2.2V407.0h-2.2zM192.80 405.5h2.2V406.0h-2.2zM197.50 405.5h2.2V407.0h-2.2zM206.90 405.5h2.2V407.0h-2.2zM211.60 401.3h2.2V405.5h-2.2zM211.60 405.5h2.2V410.8h-2.2zM216.30 400.3h2.2V405.5h-2.2zM216.30 405.5h2.2V414.7h-2.2zM221.00 398.0h2.2V405.5h-2.2zM221.00 405.5h2.2V415.0h-2.2zM225.70 395.3h2.2V405.5h-2.2zM230.40 393.8h2.2V405.5h-2.2zM235.10 393.8h2.2V405.5h-2.2zM239.80 405.5h2.2V410.8h-2.2zM244.50 405.5h2.2V414.2h-2.2zM249.20 405.5h2.2V416.3h-2.2zM253.90 395.0h2.2V405.5h-2.2zM253.90 405.5h2.2V418.3h-2.2zM258.60 392.5h2.2V405.5h-2.2zM258.60 405.5h2.2V420.0h-2.2zM263.30 390.5h2.2V405.5h-2.2zM263.30 405.5h2.2V420.0h-2.2zM268.00 388.3h2.2V405.5h-2.2zM272.70 387.2h2.2V405.5h-2.2zM277.40 386.3h2.2V405.5h-2.2zM300.90 405.5h2.2V407.0h-2.2zM310.30 405.5h2.2V411.7h-2.2zM315.00 399.2h2.2V405.5h-2.2zM315.00 405.5h2.2V413.7h-2.2zM319.70 396.7h2.2V405.5h-2.2zM319.70 405.5h2.2V415.0h-2.2zM324.40 393.8h2.2V405.5h-2.2zM329.10 392.5h2.2V405.5h-2.2zM333.80 392.5h2.2V405.5h-2.2zM357.30 405.5h2.2V406.7h-2.2zM362.00 401.3h2.2V405.5h-2.2zM362.00 405.5h2.2V406.7h-2.2zM366.70 400.8h2.2V405.5h-2.2zM366.70 405.5h2.2V406.7h-2.2zM371.40 405.5h2.2V406.7h-2.2zM376.10 405.5h2.2V406.0h-2.2zM380.80 405.5h2.2V408.0h-2.2zM385.50 402.5h2.2V405.5h-2.2zM385.50 405.5h2.2V409.5h-2.2zM390.20 401.3h2.2V405.5h-2.2zM394.90 400.3h2.2V405.5h-2.2zM394.90 405.5h2.2V409.5h-2.2zM399.60 399.7h2.2V405.5h-2.2zM399.60 405.5h2.2V409.5h-2.2zM404.30 399.7h2.2V405.5h-2.2zM404.30 405.5h2.2V413.3h-2.2zM409.00 405.5h2.2V413.8h-2.2zM413.70 397.5h2.2V405.5h-2.2zM418.40 396.7h2.2V405.5h-2.2zM437.20 405.5h2.2V410.8h-2.2zM441.90 405.5h2.2V413.3h-2.2zM451.30 402.5h2.2V405.5h-2.2zM456.00 405.5h2.2V412.5h-2.2zM460.70 405.5h2.2V421.7h-2.2zM465.40 399.7h2.2V405.5h-2.2zM465.40 405.5h2.2V421.7h-2.2zM470.10 394.2h2.2V405.5h-2.2zM470.10 405.5h2.2V421.7h-2.2zM474.80 390.3h2.2V405.5h-2.2zM474.80 405.5h2.2V421.7h-2.2zM479.50 387.5h2.2V405.5h-2.2zM479.50 405.5h2.2V421.7h-2.2zM484.20 386.7h2.2V405.5h-2.2zM484.20 405.5h2.2V421.7h-2.2zM488.90 384.5h2.2V405.5h-2.2zM493.60 383.3h2.2V405.5h-2.2zM498.30 382.2h2.2V405.5h-2.2zM503.00 381.7h2.2V405.5h-2.2zM503.00 405.5h2.2V421.7h-2.2zM507.70 405.5h2.2V421.7h-2.2zM512.40 380.8h2.2V405.5h-2.2zM517.10 379.7h2.2V405.5h-2.2zM521.80 379.7h2.2V405.5h-2.2zM535.90 405.5h2.2V418.3h-2.2zM540.60 405.5h2.2V420.0h-2.2zM545.30 386.2h2.2V405.5h-2.2zM550.00 383.8h2.2V405.5h-2.2zM554.70 383.8h2.2V405.5h-2.2zM554.70 405.5h2.2V421.7h-2.2zM559.40 405.5h2.2V421.7h-2.2zM564.10 405.5h2.2V421.7h-2.2zM568.80 383.8h2.2V405.5h-2.2zM573.50 382.5h2.2V405.5h-2.2zM582.90 405.5h2.2V418.3h-2.2zM592.30 383.8h2.2V405.5h-2.2zM601.70 405.5h2.2V410.8h-2.2zM606.40 405.5h2.2V411.7h-2.2zM615.80 405.5h2.2V412.5h-2.2zM620.50 390.5h2.2V405.5h-2.2zM625.20 390.5h2.2V405.5h-2.2zM629.90 405.5h2.2V411.7h-2.2zM648.70 405.5h2.2V411.7h-2.2zM653.40 405.5h2.2V412.5h-2.2zM662.80 405.5h2.2V413.7h-2.2zM667.50 404.2h2.2V405.5h-2.2zM667.50 405.5h2.2V406.1h-2.2zM672.20 403.8h2.2V405.5h-2.2zM672.20 405.5h2.2V406.1h-2.2z" fill="#008000"/>
<path d="M0.10 405.5h2.2V410.8h-2.2zM18.90 405.5h2.2V411.7h-2.2zM33.00 405.5h2.2V411.7h-2.2zM56.50 405.5h2.2V412.5h-2.2zM61.20 405.5h2.2V411.7h-2.2zM65.90 405.5h2.2V411.3h-2.2zM70.60 395.5h2.2V405.5h-2.2zM70.60 405.5h2.2V410.8h-2.2zM75.30 396.3h2.2V405.5h-2.2zM75.30 405.5h2.2V410.8h-2.2zM80.00 396.3h2.2V405.5h-2.2zM84.70 396.3h2.2V405.5h-2.2zM94.10 405.5h2.2V415.0h-2.2zM98.80 405.5h2.2V415.0h-2.2zM112.90 392.5h2.2V405.5h-2.2zM117.60 405.5h2.2V420.0h-2.2zM122.30 405.5h2.2V417.5h-2.2zM127.00 405.5h2.2V415.8h-2.2zM131.70 388.0h2.2V405.5h-2.2zM136.40 389.7h2.2V405.5h-2.2zM136.40 405.5h2.2V415.8h-2.2zM141.10 390.3h2.2V405.5h-2.2zM141.10 405.5h2.2V413.7h-2.2zM145.80 390.3h2.2V405.5h-2.2zM145.80 405.5h2.2V412.0h-2.2zM150.50 391.3h2.2V405.5h-2.2zM150.50 405.5h2.2V411.7h-2.2zM155.20 392.5h2.2V405.5h-2.2zM159.90 393.8h2.2V405.5h-2.2zM174.00 405.5h2.2V413.0h-2.2zM178.70 405.5h2.2V409.2h-2.2zM183.40 392.5h2.2V405.5h-2.2zM183.40 405.5h2.2V406.0h-2.2zM188.10 395.0h2.2V405.5h-2.2zM192.80 398.3h2.2V405.5h-2.2zM197.50 400.3h2.2V405.5h-2.2zM202.20 400.8h2.2V405.5h-2.2zM202.20 405.5h2.2V407.0h-2.2zM206.90 401.3h2.2V405.5h-2.2zM225.70 405.5h2.2V414.2h-2.2zM230.40 405.5h2.2V411.7h-2.2zM235.10 405.5h2.2V409.5h-2.2zM239.80 395.3h2.2V405.5h-2.2zM244.50 396.7h2.2V405.5h-2.2zM249.20 396.7h2.2V405.5h-2.2zM268.00 405.5h2.2V420.0h-2.2zM272.70 405.5h2.2V417.5h-2.2zM277.40 405.5h2.2V414.7h-2.2zM282.10 387.5h2.2V405.5h-2.2zM282.10 405.5h2.2V411.7h-2.2zM286.80 390.0h2.2V405.5h-2.2zM286.80 405.5h2.2V410.8h-2.2zM291.50 393.0h2.2V405.5h-2.2zM291.50 405.5h2.2V410.0h-2.2zM296.20 394.5h2.2V405.5h-2.2zM296.20 405.5h2.2V406.7h-2.2zM300.90 395.3h2.2V405.5h-2.2zM305.60 397.2h2.2V405.5h-2.2zM305.60 405.5h2.2V407.0h-2.2zM310.30 400.0h2.2V405.5h-2.2zM324.40 405.5h2.2V414.2h-2.2zM329.10 405.5h2.2V412.5h-2.2zM333.80 405.5h2.2V410.8h-2.2zM338.50 393.7h2.2V405.5h-2.2zM338.50 405.5h2.2V408.0h-2.2zM343.20 395.3h2.2V405.5h-2.2zM343.20 405.5h2.2V407.0h-2.2zM347.90 398.0h2.2V405.5h-2.2zM347.90 405.5h2.2V407.0h-2.2zM352.60 400.8h2.2V405.5h-2.2zM352.60 405.5h2.2V406.0h-2.2zM357.30 402.2h2.2V405.5h-2.2zM371.40 402.2h2.2V405.5h-2.2zM376.10 402.5h2.2V405.5h-2.2zM380.80 403.3h2.2V405.5h-2.2zM390.20 405.5h2.2V409.5h-2.2zM409.00 399.7h2.2V405.5h-2.2zM413.70 405.5h2.2V410.8h-2.2zM418.40 405.5h2.2V410.0h-2.2zM423.10 396.7h2.2V405.5h-2.2zM423.10 405.5h2.2V409.2h-2.2zM427.80 398.0h2.2V405.5h-2.2zM427.80 405.5h2.2V407.0h-2.2zM432.50 399.2h2.2V405.5h-2.2zM432.50 405.5h2.2V406.0h-2.2zM437.20 400.3h2.2V405.5h-2.2zM441.90 402.2h2.2V405.5h-2.2zM446.60 405.5h2.2V406.1h-2.2zM446.60 405.5h2.2V409.2h-2.2zM451.30 405.5h2.2V406.7h-2.2zM456.00 403.3h2.2V405.5h-2.2zM460.70 405.0h2.2V405.5h-2.2zM488.90 405.5h2.2V421.7h-2.2zM493.60 405.5h2.2V421.7h-2.2zM498.30 405.5h2.2V421.7h-2.2zM507.70 382.2h2.2V405.5h-2.2zM512.40 405.5h2.2V421.7h-2.2zM517.10 405.5h2.2V420.0h-2.2zM521.80 405.5h2.2V417.5h-2.2zM526.50 381.3h2.2V405.5h-2.2zM526.50 405.5h2.2V415.0h-2.2zM531.20 384.2h2.2V405.5h-2.2zM531.20 405.5h2.2V414.7h-2.2zM535.90 386.7h2.2V405.5h-2.2zM540.60 388.0h2.2V405.5h-2.2zM545.30 405.5h2.2V418.3h-2.2zM550.00 405.5h2.2V417.5h-2.2zM559.40 384.2h2.2V405.5h-2.2zM564.10 385.0h2.2V405.5h-2.2zM568.80 405.5h2.2V421.7h-2.2zM573.50 405.5h2.2V421.7h-2.2zM578.20 382.5h2.2V405.5h-2.2zM578.20 405.5h2.2V421.7h-2.2zM582.90 383.7h2.2V405.5h-2.2zM587.60 384.2h2.2V405.5h-2.2zM587.60 405.5h2.2V418.3h-2.2zM592.30 405.5h2.2V413.7h-2.2zM597.00 385.0h2.2V405.5h-2.2zM597.00 405.5h2.2V410.8h-2.2zM601.70 386.3h2.2V405.5h-2.2zM606.40 389.7h2.2V405.5h-2.2zM611.10 390.5h2.2V405.5h-2.2zM611.10 405.5h2.2V411.7h-2.2zM615.80 391.2h2.2V405.5h-2.2zM620.50 405.5h2.2V412.0h-2.2zM625.20 405.5h2.2V410.8h-2.2zM629.90 390.5h2.2V405.5h-2.2zM634.60 391.2h2.2V405.5h-2.2zM634.60 405.5h2.2V410.3h-2.2zM639.30 392.0h2.2V405.5h-2.2zM639.30 405.5h2.2V408.0h-2.2zM644.00 393.3h2.2V405.5h-2.2zM644.00 405.5h2.2V406.3h-2.2zM648.70 394.5h2.2V405.5h-2.2zM653.40 398.0h2.2V405.5h-2.2zM658.10 402.5h2.2V405.5h-2.2zM658.10 405.5h2.2V413.0h-2.2zM662.80 404.7h2.2V405.5h-2.2z" fill="#ff0000"/>
<path d="M2 405.5H690" stroke="#fff" stroke-width="0.6" stroke-dasharray="1.76 1.76" opacity="0.85"/>
</g>
<rect x="1.0" y="0" width="0.9" height="420" fill="#505050"/>
<rect x="1.0" y="252.9" width="723.7" height="2.0" fill="#585858"/>
<rect x="1.0" y="312.6" width="723.7" height="2.0" fill="#585858"/>
<rect x="1.0" y="372.4" width="723.7" height="2.0" fill="#585858"/>
<path d="M724.0 255.3h2.4M724.0 312.3h2.4M724.0 315.0h2.4M724.0 372.1h2.4M724.0 374.8h2.4" stroke="#333" stroke-width="0.6"/>
<rect x="723.65" y="0" width="1" height="420" fill="#6a6a6a"/>
<path d="M724.0 6.8h2.6M724.0 25.8h2.6M724.0 44.7h2.6M724.0 63.7h2.6M724.0 82.6h2.6M724.0 101.6h2.6M724.0 120.6h2.6M724.0 139.5h2.6M724.0 158.5h2.6M724.0 177.4h2.6M724.0 196.4h2.6M724.0 215.4h2.6M724.0 234.3h2.6" stroke="#222" stroke-width="0.8"/>
<rect x="725.6" y="29.4" width="20.2" height="6.4" fill="#dc1414"/>
<g font-family="Liberation Sans, sans-serif" font-size="6.3" stroke-width="0.08"><text x="727.9" y="9.1" fill="#000" stroke="#000" text-anchor="start" textLength="15.6" lengthAdjust="spacingAndGlyphs">496.05</text><text x="727.9" y="28.1" fill="#000" stroke="#000" text-anchor="start" textLength="15.6" lengthAdjust="spacingAndGlyphs">493.30</text><text x="727.9" y="47.0" fill="#000" stroke="#000" text-anchor="start" textLength="15.6" lengthAdjust="spacingAndGlyphs">490.55</text><text x="727.9" y="66.0" fill="#000" stroke="#000" text-anchor="start" textLength="15.6" lengthAdjust="spacingAndGlyphs">487.80</text><text x="727.9" y="84.9" fill="#000" stroke="#000" text-anchor="start" textLength="15.6" lengthAdjust="spacingAndGlyphs">485.05</text><text x="727.9" y="103.9" fill="#000" stroke="#000" text-anchor="start" textLength="15.6" lengthAdjust="spacingAndGlyphs">482.30</text><text x="727.9" y="122.9" fill="#000" stroke="#000" text-anchor="start" textLength="15.6" lengthAdjust="spacingAndGlyphs">479.55</text><text x="727.9" y="141.8" fill="#000" stroke="#000" text-anchor="start" textLength="15.6" lengthAdjust="spacingAndGlyphs">476.80</text><text x="727.9" y="160.8" fill="#000" stroke="#000" text-anchor="start" textLength="15.6" lengthAdjust="spacingAndGlyphs">474.05</text><text x="727.9" y="179.7" fill="#000" stroke="#000" text-anchor="start" textLength="15.6" lengthAdjust="spacingAndGlyphs">471.30</text><text x="727.9" y="198.7" fill="#000" stroke="#000" text-anchor="start" textLength="15.6" lengthAdjust="spacingAndGlyphs">468.55</text><text x="727.9" y="217.7" fill="#000" stroke="#000" text-anchor="start" textLength="15.6" lengthAdjust="spacingAndGlyphs">465.80</text><text x="727.9" y="236.6" fill="#000" stroke="#000" text-anchor="start" textLength="15.6" lengthAdjust="spacingAndGlyphs">463.05</text><text x="727.9" y="34.8" fill="#fff" stroke="#fff" text-anchor="start" textLength="15.6" lengthAdjust="spacingAndGlyphs">492.31</text><text x="727.2" y="260.0" fill="#000" stroke="#000" text-anchor="start" textLength="15.3" lengthAdjust="spacingAndGlyphs">10.765</text><text x="727.2" y="300.3" fill="#000" stroke="#000" text-anchor="start" textLength="12.9" lengthAdjust="spacingAndGlyphs">0.000</text><text x="726.8" y="312.2" fill="#000" stroke="#000" text-anchor="start" textLength="15" lengthAdjust="spacingAndGlyphs">-3.674</text><text x="727.2" y="320.1" fill="#000" stroke="#000" text-anchor="start" textLength="15.3" lengthAdjust="spacingAndGlyphs">4.2923</text><text x="727.2" y="351.5" fill="#000" stroke="#000" text-anchor="start" textLength="15.8" lengthAdjust="spacingAndGlyphs">0.0000</text><text x="726.8" y="371.3" fill="#000" stroke="#000" text-anchor="start" textLength="18.1" lengthAdjust="spacingAndGlyphs">-2.7370</text><text x="727.2" y="379.6" fill="#000" stroke="#000" text-anchor="start" textLength="12.9" lengthAdjust="spacingAndGlyphs">5.385</text><text x="727.2" y="406.8" fill="#000" stroke="#000" text-anchor="start" textLength="12.9" lengthAdjust="spacingAndGlyphs">0.000</text><text x="3.2" y="262.0" fill="#000" stroke="#000" text-anchor="start" textLength="35" lengthAdjust="spacingAndGlyphs">AOcust -2.421</text><text x="3.2" y="322.0" fill="#000" stroke="#000" text-anchor="start" textLength="38" lengthAdjust="spacingAndGlyphs">ACcust -2.0672</text><text x="3.2" y="382.4" fill="#000" stroke="#000" text-anchor="start" textLength="57" lengthAdjust="spacingAndGlyphs">GatorCust 0.329 -1.460</text></g>
</svg></body></html>
